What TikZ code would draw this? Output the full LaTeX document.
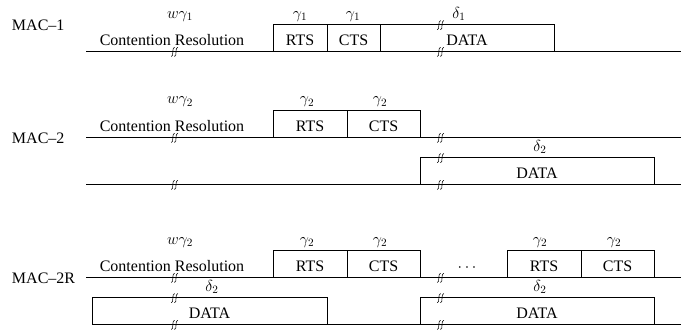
\documentclass[tikz,border=0pt]{standalone}
\usepackage{fix-cm}
\usepackage{fontspec}
\setmainfont{Liberation Serif}
\begin{document}
\begin{tikzpicture}[x=1pt,y=-1pt,
  every node/.style={font=\fontsize{16}{19}\selectfont, inner sep=0pt, outer sep=0pt},
  slot/.style={draw, line width=0.7pt, anchor=south west, minimum height=26.7pt, text height=16pt, text depth=0pt},
  lbl/.style={anchor=base},
  tl/.style={line width=0.7pt},
  brk/.pic={\draw[line width=0.55pt] (-3.8,5.5) .. controls (-0.8,5.5) and (-3.6,-3.5) .. (-0.4,-3.8)
                                    (-0.6,5.5) .. controls (2.4,5.5) and (-0.4,-3.5) .. (2.8,-3.8);}
]
\useasboundingbox (0,0) rectangle (694,331);

% ---------------- MAC-1
\node[lbl, anchor=base west] (m1) at (12,30.7) {MAC--1};
\coordinate (l1a) at (86,51); \coordinate (l1b) at (681,51);
\draw[tl] (l1a) -- (l1b);
\node[lbl] (cr1) at (172,45.7) {Contention Resolution};
\node[slot, minimum width=54pt] (rts1) at (273,51) {RTS};
\node[slot, minimum width=53pt] (cts1) at (327,51) {CTS};
\node[slot, minimum width=174pt] (data1) at (380,51) {DATA};
\node[lbl] (w1) at (180,18.3) {$w\gamma_1$};
\node[lbl] (g1a) at (300,18.3) {$\gamma_1$};
\node[lbl] (g1b) at (353,18.3) {$\gamma_1$};
\node[lbl] (d1) at (459,18.3) {$\delta_1$};
\pic at (175,51) {brk};
\pic at (441,24.3) {brk};
\pic at (441,51) {brk};

% ---------------- MAC-2
\node[lbl, anchor=base west] (m2) at (12,144) {MAC--2};
\coordinate (l2a) at (86,137); \coordinate (l2b) at (681,137);
\draw[tl] (l2a) -- (l2b);
\coordinate (l2c) at (86,184); \coordinate (l2d) at (681,184);
\draw[tl] (l2c) -- (l2d);
\node[lbl] (cr2) at (172,131.7) {Contention Resolution};
\node[slot, minimum width=74pt] (rts2) at (273,137) {RTS};
\node[slot, minimum width=73pt] (cts2) at (347,137) {CTS};
\node[slot, minimum width=234pt] (data2) at (420,184) {DATA};
\node[lbl] (w2) at (180,104) {$w\gamma_2$};
\node[lbl] (g2a) at (307,104) {$\gamma_2$};
\node[lbl] (g2b) at (380,104) {$\gamma_2$};
\node[lbl] (d2) at (540,151.5) {$\delta_2$};
\pic at (175,137) {brk};
\pic at (175,184) {brk};
\pic at (441,137) {brk};
\pic at (441,157.3) {brk};
\pic at (441,184) {brk};

% ---------------- MAC-2R
\node[lbl, anchor=base west] (m3) at (12,284) {MAC--2R};
\coordinate (l3a) at (86,277); \coordinate (l3b) at (681,277);
\draw[tl] (l3a) -- (l3b);
\coordinate (l3c) at (92,324); \coordinate (l3d) at (681,324);
\draw[tl] (l3c) -- (l3d);
\node[lbl] (cr3) at (172,271.7) {Contention Resolution};
\node[slot, minimum width=74pt] (rts3) at (273,277) {RTS};
\node[slot, minimum width=73pt] (cts3) at (347,277) {CTS};
\node[lbl] (dots) at (467,271.7) {$\cdots$};
\node[slot, minimum width=74pt] (rts4) at (507,277) {RTS};
\node[slot, minimum width=73pt] (cts4) at (581,277) {CTS};
\node[slot, minimum width=235pt] (data3) at (92,324) {DATA};
\node[slot, minimum width=234pt] (data4) at (420,324) {DATA};
\node[lbl] (w3) at (180,244.2) {$w\gamma_2$};
\node[lbl] (g3a) at (307,244.2) {$\gamma_2$};
\node[lbl] (g3b) at (380,244.2) {$\gamma_2$};
\node[lbl] (g3c) at (540,244.2) {$\gamma_2$};
\node[lbl] (g3d) at (614,244.2) {$\gamma_2$};
\node[lbl] (d3) at (212,291.5) {$\delta_2$};
\node[lbl] (d4) at (540,291.5) {$\delta_2$};
\pic at (175,277) {brk};
\pic at (175,297.3) {brk};
\pic at (175,324) {brk};
\pic at (441,277) {brk};
\pic at (441,297.3) {brk};
\pic at (441,324) {brk};
\end{tikzpicture}
\end{document}
